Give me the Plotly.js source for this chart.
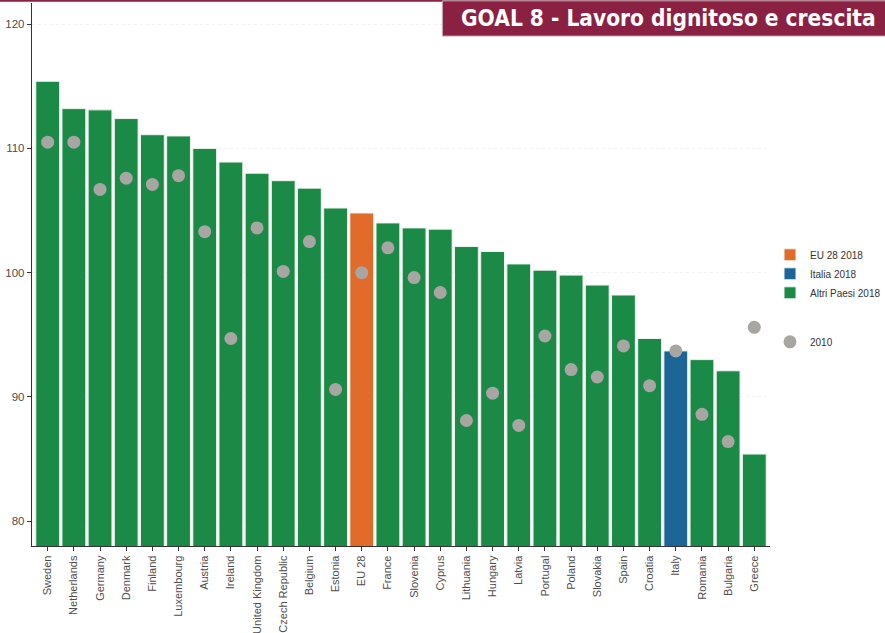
<!DOCTYPE html>
<html>
<head>
<meta charset="utf-8">
<script src="https://cdn.plot.ly/plotly-3.0.1.min.js"></script>
<style>
  html, body { margin: 0; padding: 0; background: #ffffff; }
  #chart { width: 885px; height: 633px; }
</style>
</head>
<body>
<div id="chart"></div>
<script>
// Countries ordered by 2018 value (index, 2010 = previous reference year)
const countries = [
  'Sweden', 'Netherlands', 'Germany', 'Denmark', 'Finland', 'Luxembourg',
  'Austria', 'Ireland', 'United Kingdom', 'Czech Republic', 'Belgium', 'Estonia',
  'EU 28', 'France', 'Slovenia', 'Cyprus', 'Lithuania', 'Hungary', 'Latvia',
  'Portugal', 'Poland', 'Slovakia', 'Spain', 'Croatia', 'Italy', 'Romania',
  'Bulgaria', 'Greece'
];
const values2018 = [
  115.4, 113.2, 113.1, 112.4, 111.1, 111.0,
  110.0, 108.9, 108.0, 107.4, 106.8, 105.2,
  104.8, 104.0, 103.6, 103.5, 102.1, 101.7, 100.7,
  100.2, 99.8, 99.0, 98.2, 94.7, 93.7, 93.0,
  92.1, 85.4
];
const values2010 = [
  110.5, 110.5, 106.7, 107.6, 107.1, 107.8,
  103.3, 94.7, 103.6, 100.1, 102.5, 90.6,
  100.0, 102.0, 99.6, 98.4, 88.1, 90.3, 87.7,
  94.9, 92.2, 91.6, 94.1, 90.9, 93.7, 88.6,
  86.4, 95.6
];
const euLabel = 'EU 28';
const italyLabel = 'Italy';
const seriesNames = ['EU 28 2018', 'Italia 2018', 'Altri Paesi 2018', '2010'];

const colors = { eu: '#E06B2B', italy: '#1B6597', other: '#1B8A46', dot: '#A8A6A3' };

function pick(test) {
  const x = [], y = [];
  countries.forEach((c, i) => { if (test(c)) { x.push(c); y.push(values2018[i]); } });
  return { x, y };
}

function barTrace(sel, name, color) {
  return {
    type: 'bar', x: sel.x, y: sel.y, name: name,
    marker: { color: color, line: { color: '#eef4ee', width: 1 } },
    legendgroup: 'bars', hoverinfo: 'x+y'
  };
}

const eu = pick(c => c === euLabel);
const it = pick(c => c === italyLabel);
const rest = pick(c => c !== euLabel && c !== italyLabel);

const traces = [
  barTrace(eu, seriesNames[0], colors.eu),
  barTrace(it, seriesNames[1], colors.italy),
  barTrace(rest, seriesNames[2], colors.other),
  {
    type: 'scatter', mode: 'markers', x: countries, y: values2010,
    name: seriesNames[3], legendgroup: 'dots',
    marker: { color: colors.dot, size: 13, line: { width: 0 } }
  }
];

const font = 'Liberation Sans, Arial, Helvetica, sans-serif';

const layout = {
  width: 885, height: 633,
  margin: { l: 32, r: 115, t: 3, b: 87, autoexpand: false },
  paper_bgcolor: '#ffffff', plot_bgcolor: '#ffffff',
  barmode: 'overlay', bargap: 0.09,
  showlegend: true,
  font: { family: font, color: '#4d4d4d', size: 11 },
  xaxis: {
    type: 'category', categoryorder: 'array', categoryarray: countries,
    range: [-0.6, countries.length - 0.4], automargin: false,
    tickangle: -90, tickfont: { size: 11, color: '#4d4d4d' },
    ticks: 'outside', ticklen: 4, tickcolor: '#333333', tickwidth: 1,
    showline: true, linecolor: '#333333', linewidth: 1.2,
    showgrid: false, zeroline: false
  },
  yaxis: {
    range: [78, 121.7], automargin: false,
    tickvals: [80, 90, 100, 110, 120],
    tickfont: { size: 11.5, color: '#4d4d4d' },
    ticks: 'outside', ticklen: 4, tickcolor: '#333333', tickwidth: 1,
    showline: true, linecolor: '#333333', linewidth: 1.2,
    showgrid: true, gridcolor: '#f1f1f1', griddash: 'dot', gridwidth: 1,
    zeroline: false
  },
  legend: {
    x: 1.0, xanchor: 'left', y: 0.563, yanchor: 'top',
    font: { size: 10, color: '#333333', family: font },
    bgcolor: 'rgba(0,0,0,0)', traceorder: 'grouped', tracegroupgap: 30,
    itemclick: false
  },
  shapes: [
    // thin maroon rule along the top edge
    { type: 'line', xref: 'paper', yref: 'paper', x0: -0.05, x1: 1.2, y0: 1.004, y1: 1.004,
      line: { color: '#8A2142', width: 2 } },
    // banner behind the goal heading
    { type: 'rect', xref: 'paper', yref: 'paper', x0: 0.556, x1: 1.2, y0: 0.939, y1: 1.004,
      fillcolor: '#8A2142', line: { color: '#c9b3bb', width: 1 }, layer: 'above' }
  ],
  annotations: [
    { text: '<b>GOAL 8 - Lavoro dignitoso e crescita</b>', xref: 'paper', yref: 'paper',
      x: 1.146, xanchor: 'right', y: 0.972, yanchor: 'middle', showarrow: false,
      font: { family: 'DejaVu Sans Condensed, DejaVu Sans, sans-serif', size: 22.5, color: '#ffffff' } }
  ]
};

Plotly.newPlot('chart', traces, layout, { displayModeBar: false, staticPlot: true });
</script>
</body>
</html>
